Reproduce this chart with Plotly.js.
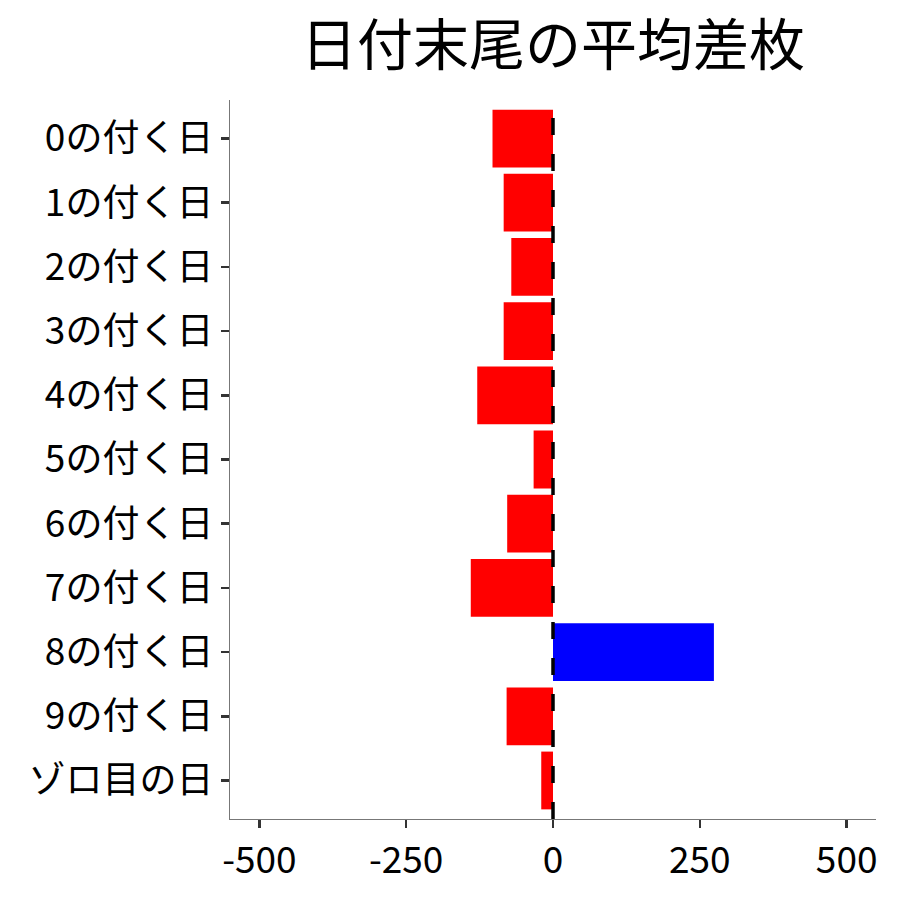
<!DOCTYPE html>
<html>
<head>
<meta charset="utf-8">
<script src="https://cdn.plot.ly/plotly-3.0.1.min.js"></script>
<style>
  body { margin: 0; background: #fff; }
  #chart { width: 900px; height: 900px; }
</style>
</head>
<body>
<div id="chart"></div>
<script>
// date-ending categories, top to bottom
var days = ['0の付く日', '1の付く日', '2の付く日', '3の付く日', '4の付く日',
            '5の付く日', '6の付く日', '7の付く日', '8の付く日', '9の付く日', 'ゾロ目の日'];
// average difference
var avgDiff = [-103, -84, -71, -84, -129, -33, -78, -140, 274, -79, -20];
var xTicks = [-500, -250, 0, 250, 500];

var barColors = avgDiff.map(function (v) { return v > 0 ? '#0000ff' : '#ff0000'; });

var trace = {
    type: 'bar',
    orientation: 'h',
    x: avgDiff,
    y: days,
    width: 0.9,
    marker: { color: barColors, line: { width: 0 } },
    hoverinfo: 'x+y'
};

var font = 'Noto Sans CJK JP, Noto Sans, sans-serif';

var layout = {
    width: 900,
    height: 900,
    margin: { l: 230, r: 24, t: 100, b: 81 },
    paper_bgcolor: '#fff',
    plot_bgcolor: '#fff',
    showlegend: false,
    font: { family: font, color: '#000' },
    title: {
        text: '日付末尾の平均差枚',
        font: { family: font, size: 56, color: '#000' },
        xref: 'paper', x: 0.5, xanchor: 'center',
        yref: 'container', y: 0.95, yanchor: 'middle'
    },
    xaxis: {
        range: [-550, 550],
        tickvals: xTicks,
        ticktext: xTicks.map(String),
        showgrid: false,
        zeroline: false,
        showline: true,
        linecolor: '#777',
        linewidth: 1.2,
        ticks: 'outside',
        ticklen: 8,
        tickwidth: 2.5,
        tickcolor: '#333',
        tickfont: { family: font, size: 37, color: '#000' }
    },
    yaxis: {
        type: 'category',
        categoryorder: 'array',
        categoryarray: days,
        range: [days.length - 0.4, -0.6],
        showgrid: false,
        zeroline: false,
        showline: true,
        linecolor: '#777',
        linewidth: 1.2,
        ticks: 'outside',
        ticklen: 8,
        tickwidth: 2.5,
        tickcolor: '#333',
        tickfont: { family: font, size: 37, color: '#000' }
    },
    shapes: [{
        type: 'line',
        xref: 'x', yref: 'paper',
        x0: 0, x1: 0, y0: 0, y1: 1,
        line: { color: '#000', width: 3.5, dash: '17px,19px' }
    }]
};

Plotly.newPlot('chart', [trace], layout, { displayModeBar: false, staticPlot: true });
</script>
</body>
</html>
